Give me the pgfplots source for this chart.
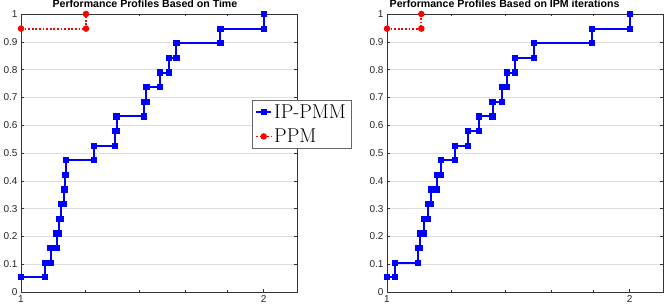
\documentclass[border=0pt]{standalone}
\usepackage{fontspec}
\setsansfont{Liberation Sans}
\usepackage{pgfplots}
\pgfplotsset{compat=1.18}
\definecolor{mblue}{RGB}{0,0,255}
\definecolor{mred}{RGB}{255,0,0}
\pgfplotsset{
  legend image code/.code={\draw[mark repeat=2,mark phase=2] plot coordinates {(0pt,0pt) (7.5pt,0pt) (15pt,0pt)};},
  every axis title shift=0pt,
}
\begin{document}
\begin{tikzpicture}
\useasboundingbox (-21pt,-15pt) rectangle (643pt,292pt);
\begin{axis}[
  scale only axis, width=276pt, height=278pt,
  xmode=log,
  xmin=1, xmax=2.2, ymin=0, ymax=1,
  xtick={1,2}, xticklabels={1,2},
  minor xtick={1.2,1.4,1.6,1.8},
  ytick={0,0.1,0.2,0.3,0.4,0.5,0.6,0.7,0.8,0.9,1},
  yticklabels={0,0.1,0.2,0.3,0.4,0.5,0.6,0.7,0.8,0.9,1},
  ymajorgrids, grid style={black!13, line width=0.5pt},
  tick align=inside, major tick length=3pt, minor tick length=2pt,
  tick style={black!80, line width=0.4pt},
  axis line style={black!80, line width=0.5pt},
  tick label style={font=\sffamily\fontsize{10}{12}\selectfont, text=black!85},
  clip=false,
  title={Performance Profiles Based on Time},
  title style={at={(axis description cs:0.449,1)}, anchor=base, yshift=6pt, inner sep=0pt, font=\sffamily\bfseries\fontsize{10.6}{12}\selectfont},
  legend style={at={(rel axis cs:0.837,0.6906)}, anchor=north west, draw=black!60, fill=white, inner xsep=3pt, inner ysep=2.5pt,
    font=\fontsize{20}{24}\selectfont, row sep=5pt},
  legend cell align=left,
]
\addplot[mblue, line width=2pt, mark=square*, mark size=2.1pt] coordinates {
(1,0.0526) (1.071,0.0526) (1.071,0.1053) (1.088,0.1053) (1.088,0.1579) (1.107,0.1579) (1.107,0.2105)
(1.115,0.2105) (1.115,0.2632) (1.121,0.2632) (1.121,0.3158) (1.130,0.3158) (1.130,0.3684)
(1.135,0.3684) (1.135,0.4211) (1.137,0.4211) (1.137,0.4737) (1.231,0.4737) (1.231,0.5263)
(1.307,0.5263) (1.307,0.5789) (1.314,0.5789) (1.314,0.6316) (1.420,0.6316) (1.420,0.6842)
(1.431,0.6842) (1.431,0.7368) (1.489,0.7368) (1.489,0.7895) (1.525,0.7895) (1.525,0.8421)
(1.559,0.8421) (1.559,0.8947) (1.768,0.8947) (1.768,0.9474) (2.0,0.9474) (2.0,1.0)};
\addlegendentry{IP-PMM}
\addplot[mred, line width=1.8pt, dash pattern=on 1.8pt off 1.8pt, mark=*, mark size=2.3pt, mark options={solid}] coordinates {(1,0.9474) (1.204,0.9474) (1.204,1.0)};
\addlegendentry{PPM}
\end{axis}
\begin{axis}[at={(366pt,0pt)},
  scale only axis, width=276pt, height=278pt,
  xmode=log,
  xmin=1, xmax=2.2, ymin=0, ymax=1,
  xtick={1,2}, xticklabels={1,2},
  minor xtick={1.2,1.4,1.6,1.8},
  ytick={0,0.1,0.2,0.3,0.4,0.5,0.6,0.7,0.8,0.9,1},
  yticklabels={0,0.1,0.2,0.3,0.4,0.5,0.6,0.7,0.8,0.9,1},
  ymajorgrids, grid style={black!13, line width=0.5pt},
  tick align=inside, major tick length=3pt, minor tick length=2pt,
  tick style={black!80, line width=0.4pt},
  axis line style={black!80, line width=0.5pt},
  tick label style={font=\sffamily\fontsize{10}{12}\selectfont, text=black!85},
  clip=false,
  title={Performance Profiles Based on IPM iterations},
  title style={at={(axis description cs:0.426,1)}, anchor=base, yshift=6pt, inner sep=0pt, font=\sffamily\bfseries\fontsize{10.6}{12}\selectfont},
]
\addplot[mblue, line width=2pt, mark=square*, mark size=2.1pt] coordinates {
(1,0.0526) (1.024,0.0526) (1.024,0.1053) (1.093,0.1053) (1.093,0.1579) (1.098,0.1579) (1.098,0.2105)
(1.112,0.2105) (1.112,0.2632) (1.123,0.2632) (1.123,0.3158) (1.135,0.3158) (1.135,0.3684)
(1.154,0.3684) (1.154,0.4211) (1.168,0.4211) (1.168,0.4737) (1.214,0.4737) (1.214,0.5263)
(1.260,0.5263) (1.260,0.5789) (1.302,0.5789) (1.302,0.6316) (1.352,0.6316) (1.352,0.6842)
(1.389,0.6842) (1.389,0.7368) (1.409,0.7368) (1.409,0.7895) (1.443,0.7895) (1.443,0.8421)
(1.523,0.8421) (1.523,0.8947) (1.796,0.8947) (1.796,0.9474) (2.0,0.9474) (2.0,1.0)};
\addplot[mred, line width=1.8pt, dash pattern=on 1.8pt off 1.8pt, mark=*, mark size=2.3pt, mark options={solid}] coordinates {(1,0.9474) (1.103,0.9474) (1.103,1.0)};
\end{axis}
\end{tikzpicture}
\end{document}
